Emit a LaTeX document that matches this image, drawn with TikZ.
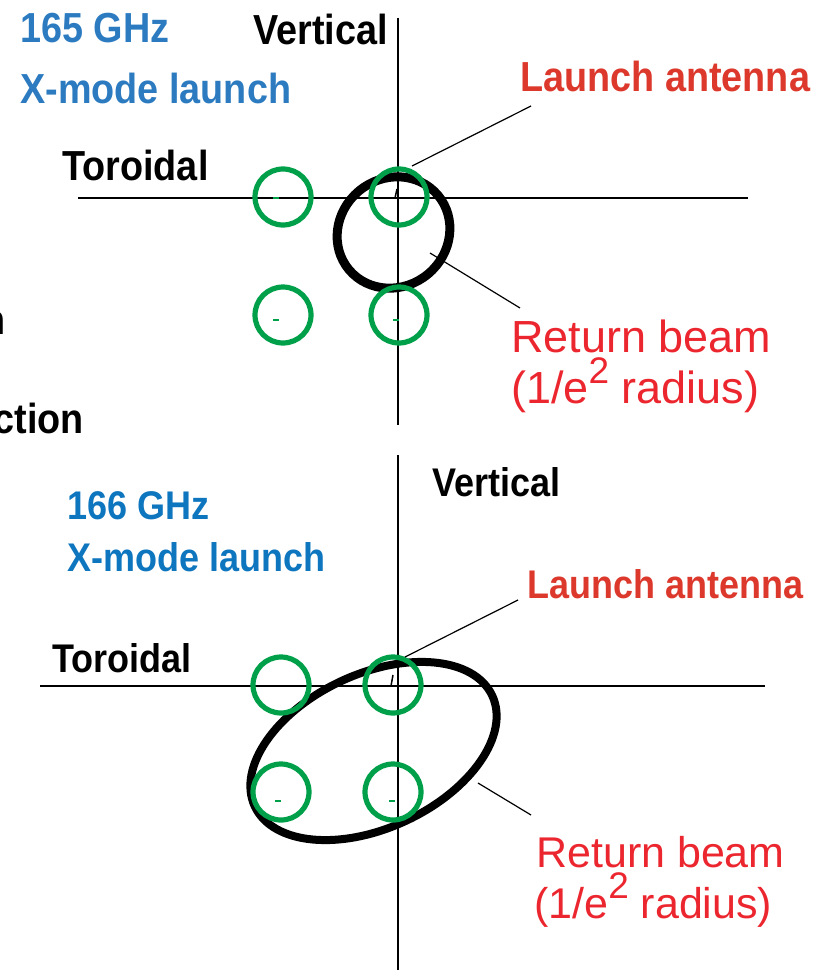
\documentclass[tikz,border=0pt]{standalone}
\usepackage{fontspec}
\setmainfont{Liberation Sans}
\usepackage{graphicx}
\usetikzlibrary{positioning,calc}
\definecolor{ghzblue}{RGB}{44,123,192}
\definecolor{ghzblueb}{RGB}{14,118,190}
\definecolor{antred}{RGB}{220,56,44}
\definecolor{beamred}{RGB}{236,38,46}
\definecolor{spotgreen}{RGB}{0,160,75}
\newcommand{\narrowtxt}[1]{\scalebox{0.9}[1]{#1}}
\newcommand{\esq}{e\raisebox{20pt}[0pt][0pt]{\fontsize{37}{37}\selectfont 2}}

\begin{document}
\begin{tikzpicture}[x=1pt,y=-1pt,
   every node/.style={inner sep=0pt},
   axisline/.style={line width=1.8pt},
   spot/.style={circle,draw=spotgreen,line width=5.2pt,minimum size=56pt},
   beamring/.style={line width=9pt},
   leader/.style={line width=1.2pt},
   hdr/.style={font=\bfseries\fontsize{42}{44}\selectfont,anchor=base west},
   hdrb/.style={font=\bfseries\fontsize{40}{42}\selectfont,anchor=base west},
   retlbl/.style={font=\fontsize{45}{47}\selectfont,text=beamred,anchor=base west},
   retlblb/.style={font=\fontsize{43}{45}\selectfont,text=beamred,anchor=base west}]
  \useasboundingbox (0,0) rectangle (836,974);

  % 165 GHz panel
  \draw[axisline] (398,18) -- (398,425);
  \draw[axisline] (78,198) -- (748,198);
  \draw[line width=1.5pt] (397,189) -- (395,198);
  \draw[beamring,rotate around={40:(393.5,232.5)}] (393.5,232.5)
     ellipse [x radius=58pt,y radius=54pt];
  \node[spot] (sa1) at (283,197) {};
  \node[spot] (sa2) at (399,197) {};
  \node[spot] (sa3) at (283,315) {};
  \node[spot] (sa4) at (399,315) {};
  \draw[spotgreen,line width=1.5pt] (273,198) -- (279,198);
  \draw[spotgreen,line width=1.5pt] (273,320) -- (279,320);
  \draw[spotgreen,line width=1.5pt] (393,320) -- (399,320);

  \node[hdr,text=ghzblue] (fa) at (20,43) {\narrowtxt{165 GHz}};
  \node[hdr,text=ghzblue] (ma) at (20,103) {\narrowtxt{X-mode launch}};
  \node[hdr] (va) at (253,45) {\narrowtxt{Vertical}};
  \node[hdr] (ta) at (62,180) {\narrowtxt{Toroidal}};
  \node[hdr,text=antred] (la) at (520,91) {\narrowtxt{Launch antenna}};
  \node[retlbl] (ra) at (511,352) {Return beam};
  \node[retlbl] (rra) at (511,403) {(1/\esq{} radius)};
  \node[hdr,anchor=base east] (cut1) at (6,334) {\narrowtxt{n}};
  \node[hdr,anchor=base east] (cut2) at (84,433) {\narrowtxt{ction}};

  \coordinate (pla) at (412,166);
  \coordinate (qla) at (531,106);
  \coordinate (pra) at (430,253);
  \coordinate (qra) at (520,308);
  \draw[leader] (pla) -- (qla);
  \draw[leader] (pra) -- (qra);

  % 166 GHz panel
  \draw[line width=1.3pt] (398,455) -- (398,970);
  \draw[axisline] (40,686) -- (765,686);
  \draw[line width=1.5pt] (393,675) -- (391,686);
  \draw[line width=8pt,rotate around={25:(373.5,751)}] (373.5,751)
     ellipse [x radius=131pt,y radius=77pt];
  \node[spot] (sb1) at (281,685) {};
  \node[spot] (sb2) at (393,685) {};
  \node[spot] (sb3) at (281,792) {};
  \node[spot] (sb4) at (393,792) {};
  \draw[spotgreen,line width=1.5pt] (275,801) -- (281,801);
  \draw[spotgreen,line width=1.5pt] (389,801) -- (395,801);

  \node[hdrb,text=ghzblueb] (fb) at (67,519) {\narrowtxt{166 GHz}};
  \node[hdrb,text=ghzblueb] (mb) at (67,571) {\narrowtxt{X-mode launch}};
  \node[hdrb] (vb) at (432,496) {\narrowtxt{Vertical}};
  \node[hdrb] (tb) at (52,672) {\narrowtxt{Toroidal}};
  \node[hdrb,text=antred] (lb) at (527,598) {\narrowtxt{Launch antenna}};
  \node[retlblb] (rb) at (536,867) {Return beam};
  \node[retlblb] (rrb) at (534,918) {(1/\esq{} radius)};

  \coordinate (plb) at (405,657);
  \coordinate (qlb) at (518,600);
  \coordinate (prb) at (478,783);
  \coordinate (qrb) at (531,815);
  \draw[leader] (plb) -- (qlb);
  \draw[leader] (prb) -- (qrb);
\end{tikzpicture}
\end{document}
